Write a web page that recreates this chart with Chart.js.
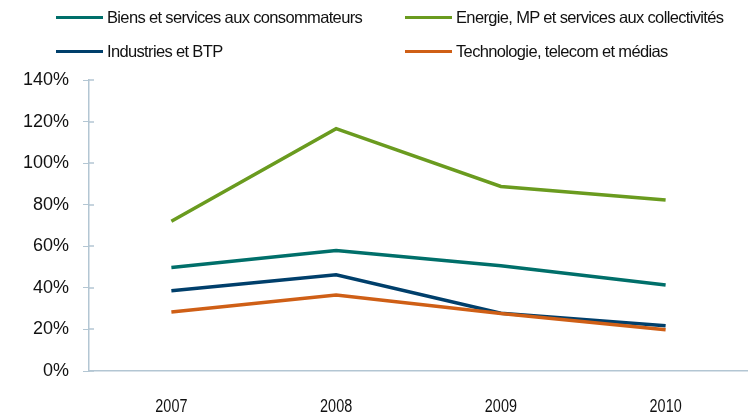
<!DOCTYPE html>
<html>
<head>
<meta charset="utf-8">
<script src="https://cdn.jsdelivr.net/npm/chart.js@4"></script>
<style>
  html, body { margin: 0; padding: 0; background: #fff; }
  #wrap { position: relative; width: 748px; height: 418px; }
  #legend { position: absolute; left: 0; top: 0; width: 748px; height: 70px;
    font-family: 'Liberation Sans', Arial, sans-serif;
    font-size: 16.5px; letter-spacing: -0.65px; color: #111; }
  .item { position: absolute; display: flex; align-items: center; white-space: nowrap; }
  .swatch { width: 47px; height: 3.5px; margin-right: 4px; }
</style>
</head>
<body>
<div id="wrap">
  <canvas id="myChart" width="748" height="418"></canvas>
  <div id="legend"></div>
</div>
<script>
// Data
const years = ['2007', '2008', '2009', '2010'];
const biens = [49.8, 58.0, 50.6, 41.4];
const energie = [72.0, 116.6, 88.8, 82.3];
const industries = [38.6, 46.3, 27.8, 21.8];
const techno = [28.4, 36.6, 27.7, 19.9];
const seriesNames = [
  'Biens et services aux consommateurs',
  'Energie, MP et services aux collectivités',
  'Industries et BTP',
  'Technologie, telecom et médias'
];
const yTicks = [0, 20, 40, 60, 80, 100, 120, 140];

const colors = ['#006f6a', '#6a9b1f', '#003f6b', '#cf5f16'];
const values = [biens, energie, industries, techno];
const legendPos = [[56, 18], [405, 18], [56, 52], [405, 52]];

const axisColor = '#b3c6d3';

// year labels drawn condensed (narrow font look) + y tick marks crossing the axis
const narrowTicks = {
  id: 'narrowTicks',
  afterDraw(chart) {
    const x = chart.scales.x;
    const y = chart.scales.y;
    const c = chart.ctx;
    c.save();
    c.strokeStyle = axisColor;
    c.lineWidth = 1.5;
    y.ticks.forEach(t => {
      const py = Math.round(y.getPixelForValue(t.value));
      c.beginPath();
      c.moveTo(y.right, py);
      c.lineTo(y.right + 5, py);
      c.stroke();
    });
    c.font = '18px "Liberation Sans", Arial, sans-serif';
    c.fillStyle = '#111';
    c.textAlign = 'center';
    c.textBaseline = 'middle';
    years.forEach((lab, i) => {
      c.save();
      c.translate(x.getPixelForTick(i), 407);
      c.scale(0.8, 1);
      c.fillText(lab, 0, 0);
      c.restore();
    });
    c.restore();
  }
};

const ctx = document.getElementById('myChart');
const chart = new Chart(ctx, {
  type: 'line',
  data: {
    labels: years,
    datasets: values.map((v, i) => ({
      label: seriesNames[i],
      data: v,
      borderColor: colors[i],
      backgroundColor: colors[i],
      borderWidth: 3.5,
      pointRadius: 0,
      tension: 0,
      order: i === 3 ? 0 : 1
    }))
  },
  plugins: [narrowTicks],
  options: {
    responsive: false,
    animation: false,
    layout: { padding: { top: 80, right: 0, left: 0, bottom: 0 } },
    plugins: { legend: { display: false }, tooltip: { enabled: false } },
    scales: {
      x: {
        offset: true,
        grid: { display: false, drawTicks: false },
        border: { color: axisColor, width: 1.5 },
        ticks: { display: false },
        afterFit: s => { s.height = 47; }
      },
      y: {
        min: 0,
        max: 140,
        afterBuildTicks: s => { s.ticks = yTicks.map(v => ({ value: v })); },
        grid: { drawOnChartArea: false, color: axisColor, tickLength: 6 },
        border: { color: axisColor, width: 1.5 },
        ticks: {
          color: '#111', padding: 14,
          font: { family: 'Liberation Sans, Arial, sans-serif', size: 18 },
          callback: v => v + '%'
        },
        afterFit: s => { s.width = 89; }
      }
    }
  }
});

// HTML legend from the chart datasets
const legend = document.getElementById('legend');
chart.data.datasets.forEach((ds, i) => {
  const el = document.createElement('div');
  el.className = 'item';
  el.style.left = legendPos[i][0] + 'px';
  el.style.top = (legendPos[i][1] - 10) + 'px';
  el.innerHTML = '<span class="swatch" style="background:' + ds.borderColor + '"></span><span>' + ds.label + '</span>';
  legend.appendChild(el);
});
</script>
</body>
</html>
